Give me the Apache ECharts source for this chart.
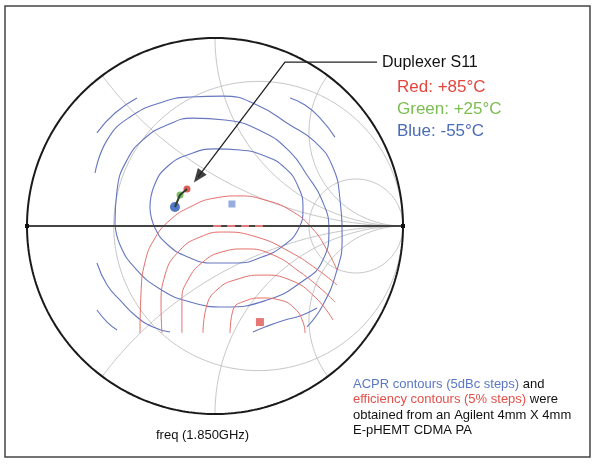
<!DOCTYPE html>
<html><head><meta charset="utf-8">
<script src="https://cdn.jsdelivr.net/npm/echarts/dist/echarts.min.js"></script>
<style>html,body{margin:0;padding:0;background:#fff}#c{width:596px;height:464px}</style>
</head><body><div id="c"></div>
<script>
// ---- Smith chart grid values (normalized impedance) ----
const R_GRID = [0.3, 3];
const X_GRID = [0.5, 1, 2, -0.5, -1, -2];

// ---- ACPR contours (blue), reflection coefficient [Re, Im] ----
const acpr1 = [[-0.346,0.096],[-0.324,0.213],[-0.250,0.319],[-0.133,0.383],[0.000,0.410],[0.133,0.404],[0.266,0.372],[0.372,0.309],[0.441,0.213],[0.468,0.096],[0.441,-0.021],[0.362,-0.106],[0.250,-0.165],[0.117,-0.197],[-0.016,-0.197],[-0.144,-0.165],[-0.250,-0.101],[-0.319,-0.011],[-0.346,0.096]];
const acpr2 = [[-0.532,0.016],[-0.521,0.191],[-0.468,0.351],[-0.372,0.468],[-0.255,0.537],[-0.117,0.574],[0.053,0.564],[0.255,0.500],[0.399,0.394],[0.489,0.271],[0.569,0.138],[0.606,-0.021],[0.574,-0.181],[0.452,-0.303],[0.277,-0.394],[0.053,-0.431],[-0.133,-0.404],[-0.293,-0.335],[-0.426,-0.223],[-0.505,-0.101],[-0.532,0.016]];
const acpr3a = [[-0.638,0.282],[-0.574,0.457],[-0.452,0.580],[-0.277,0.660],[-0.133,0.686],[0.043,0.691],[0.223,0.644],[0.399,0.537],[0.532,0.447],[0.622,0.324],[0.665,0.138],[0.676,-0.074],[0.649,-0.234],[0.574,-0.420],[0.489,-0.537]];
const acpr3b = [[-0.628,-0.197],[-0.574,-0.314],[-0.505,-0.394],[-0.415,-0.484],[-0.330,-0.537],[-0.239,-0.564]];
const acpr4a = [[-0.628,0.495],[-0.532,0.601],[-0.415,0.681]];
const acpr4b = [[0.399,0.681],[0.479,0.644],[0.559,0.574],[0.638,0.473]];
const acpr4c = [[-0.628,-0.447],[-0.574,-0.511],[-0.521,-0.553]];
const acpr5 = [[0.202,-0.564],[0.266,-0.537],[0.372,-0.500],[0.452,-0.479],[0.543,-0.436]];

// ---- Efficiency contours (red) ----
const eff1 = [[0.080,-0.569],[0.096,-0.447],[0.160,-0.399],[0.250,-0.383],[0.346,-0.394],[0.426,-0.441],[0.468,-0.511],[0.479,-0.569]];
const eff2 = [[-0.064,-0.569],[-0.043,-0.420],[0.016,-0.335],[0.106,-0.287],[0.255,-0.261],[0.399,-0.287],[0.532,-0.378],[0.628,-0.500]];
const eff3 = [[-0.176,-0.569],[-0.176,-0.394],[-0.144,-0.287],[-0.064,-0.191],[0.037,-0.138],[0.160,-0.122],[0.309,-0.154],[0.452,-0.245],[0.559,-0.330],[0.638,-0.404]];
const eff4 = [[-0.282,-0.569],[-0.287,-0.420],[-0.266,-0.261],[-0.186,-0.128],[-0.080,-0.059],[0.043,-0.032],[0.223,-0.059],[0.399,-0.138],[0.548,-0.234],[0.649,-0.314]];
const eff5 = [[-0.399,-0.569],[-0.394,-0.367],[-0.372,-0.191],[-0.319,-0.064],[-0.239,0.032],[-0.133,0.101],[0.000,0.149],[0.133,0.160],[0.266,0.138],[0.399,0.085],[0.516,-0.011],[0.596,-0.128],[0.649,-0.234]];
const eff6 = [[-0.010,0.0],[0.255,0.0]];

// ---- Optimum points ----
const acprOpt = [[0.090,0.117]];
const effOpt = [[0.239,-0.511]];

// ---- Duplexer S11 at three temperatures ----
const s11Blue = [-0.213,0.101];   // -55°C
const s11Green = [-0.186,0.165];  // +25°C
const s11Red = [-0.149,0.197];    // +85°C

// ---- Annotation arrow path ----
const arrowPath = [[0.862,0.872],[0.372,0.872],[-0.090,0.261]];
const arrowHead = [[-0.090,0.261]];

// ---- Layout (pixels) ----
const W = 596, H = 464, CX = 215, CY = 226, RAD = 188;

function rCircle(r){
  const c = r/(1+r), rad = 1/(1+r), pts=[];
  for(let i=0;i<=240;i++){const t=i/240*2*Math.PI; pts.push([c+rad*Math.cos(t), rad*Math.sin(t)]);}
  return pts;
}
function xArc(x){
  const pts=[];
  for(let i=0;i<=240;i++){
    const s = Math.tan(i/240*Math.PI/2*0.9995);
    const d = (s+1)*(s+1)+x*x;
    pts.push([(s*s-1+x*x)/d, 2*x/d]);
  }
  pts.push([1,0]);
  return pts;
}
function unitCircle(){
  const pts=[];
  for(let i=0;i<=360;i++){const t=i/360*2*Math.PI; pts.push([Math.cos(t), Math.sin(t)]);}
  return pts;
}

const series = [];
const lineBase = {type:'line', symbol:'none', silent:true, animation:false, clip:false};
R_GRID.forEach(r=>series.push(Object.assign({}, lineBase, {data:rCircle(r), lineStyle:{color:'#c6c6c6', width:1}})));
X_GRID.forEach(x=>series.push(Object.assign({}, lineBase, {data:xArc(x), lineStyle:{color:'#c6c6c6', width:1}})));

const blueStyle = {color:'#6677c0', width:1.1};
[acpr1, acpr2, acpr3a, acpr3b, acpr4a, acpr4b, acpr4c, acpr5].forEach(d=>
  series.push(Object.assign({}, lineBase, {data:d, smooth:0.5, lineStyle:blueStyle})));
const redStyle = {color:'#e4706c', width:1};
[eff1, eff2, eff3, eff4, eff5].forEach(d=>
  series.push(Object.assign({}, lineBase, {data:d, smooth:0.5, lineStyle:redStyle})));

// outer circle and real axis
series.push(Object.assign({}, lineBase, {data:unitCircle(), lineStyle:{color:'#1a1a1a', width:2}}));
series.push(Object.assign({}, lineBase, {data:[[-1,0],[1,0]], symbol:'rect', symbolSize:4, itemStyle:{color:'#111'}, lineStyle:{color:'#444', width:2}}));
series.push(Object.assign({}, lineBase, {data:eff6, lineStyle:{color:'#e07a78', width:2, type:[8,6]}}));

// optimum markers
series.push({type:'scatter', data:acprOpt, symbol:'rect', symbolSize:7, itemStyle:{color:'#7b9ad6'}, silent:true, animation:false});
series.push({type:'scatter', data:effOpt, symbol:'rect', symbolSize:8, itemStyle:{color:'#e05555'}, silent:true, animation:false});

// S11 trace
series.push(Object.assign({}, lineBase, {data:[s11Blue, s11Green, s11Red], lineStyle:{color:'#2f3f2f', width:2}}));
series.push({type:'scatter', data:[s11Blue], symbolSize:10, itemStyle:{color:'#2456b8'}, silent:true, animation:false});
series.push({type:'scatter', data:[s11Green], symbolSize:7, itemStyle:{color:'#5cae3c'}, silent:true, animation:false});
series.push({type:'scatter', data:[s11Red], symbolSize:7, itemStyle:{color:'#d8352b'}, silent:true, animation:false});

// arrow
series.push(Object.assign({}, lineBase, {data:arrowPath, lineStyle:{color:'#222', width:1.3}}));
series.push({type:'scatter', data:arrowHead, symbol:'triangle', symbolSize:[11,14], symbolRotate:143, itemStyle:{color:'#111'}, silent:true, animation:false});

const FONT = '"Liberation Sans", Arial, sans-serif';
const chart = echarts.init(document.getElementById('c'), null, {renderer:'canvas'});
chart.setOption({
  backgroundColor:'#fff',
  animation:false,
  grid:{left:0, top:0, width:W, height:H},
  xAxis:{type:'value', min:-CX/RAD, max:(W-CX)/RAD, show:false},
  yAxis:{type:'value', min:-(H-CY)/RAD, max:CY/RAD, show:false},
  series: series,
  graphic:[
    {type:'rect', shape:{x:5, y:6, width:585, height:451}, style:{fill:'none', stroke:'#444', lineWidth:1.5}, z:100},
    {type:'text', left:382, top:55, style:{text:'Duplexer S11', font:'16px '+FONT, fill:'#111'}, z:100},
    {type:'text', left:397, top:79, style:{text:'Red: +85°C', font:'17px '+FONT, fill:'#e4463e'}, z:100},
    {type:'text', left:397, top:101, style:{text:'Green: +25°C', font:'17px '+FONT, fill:'#7cbd52'}, z:100},
    {type:'text', left:397, top:123, style:{text:'Blue: -55°C', font:'17px '+FONT, fill:'#4a6bb6'}, z:100},
    {type:'text', left:156, top:429, style:{text:'freq (1.850GHz)', font:'13px '+FONT, fill:'#111'}, z:100},
    {type:'text', left:353, top:378, style:{rich:{b:{fill:'#5a78c4', font:'13px '+FONT}, k:{fill:'#111', font:'13px '+FONT}}, text:'{b|ACPR contours (5dBc steps)}{k| and}'}, z:100},
    {type:'text', left:353, top:393, style:{rich:{r:{fill:'#e4504a', font:'13px '+FONT}, k:{fill:'#111', font:'13px '+FONT}}, text:'{r|efficiency contours (5% steps)}{k| were}'}, z:100},
    {type:'text', left:353, top:409, style:{text:'obtained from an Agilent 4mm X 4mm', font:'13px '+FONT, fill:'#111'}, z:100},
    {type:'text', left:353, top:424, style:{text:'E-pHEMT CDMA PA', font:'13px '+FONT, fill:'#111'}, z:100}
  ]
});
</script></body></html>
